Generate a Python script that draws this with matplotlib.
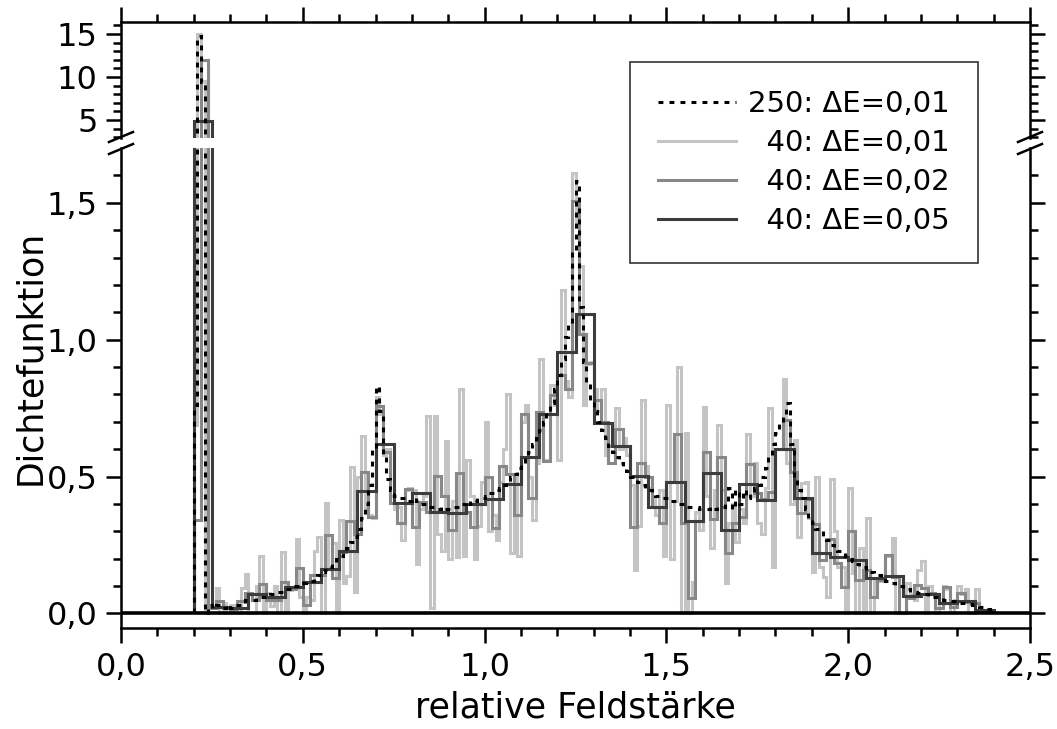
import numpy as np
import matplotlib
matplotlib.use("Agg")
import matplotlib.pyplot as plt
from matplotlib.lines import Line2D

plt.rcParams['font.family'] = ['DejaVu Sans']

# bin start, bin width and values (density) for each run
start = 0.20

# 40 runs, dE = 0.05
dens_40_005 = [4.9, 0.025, 0.02, 0.071, 0.061, 0.098, 0.115, 0.163, 0.23, 0.448,
               0.619, 0.405, 0.44, 0.372, 0.368, 0.40, 0.418, 0.472, 0.571, 0.729,
               0.955, 1.092, 0.697, 0.612, 0.502, 0.39, 0.48, 0.339, 0.512, 0.305,
               0.472, 0.415, 0.60, 0.423, 0.22, 0.207, 0.195, 0.128, 0.137, 0.064,
               0.070, 0.037, 0.046, 0.013]

# 40 runs, dE = 0.02
dens_40_002 = [0.34, 12.0, 0.02, 0.047, 0.02, 0.015, 0.047, 0.074, 0.05, 0.106,
               0.05, 0.05, 0.114, 0.09, 0.167, 0.03, 0.14, 0.14, 0.286, 0.128,
               0.226, 0.336, 0.29, 0.518, 0.354, 0.758, 0.588, 0.405, 0.33, 0.454,
               0.317, 0.407, 0.372, 0.503, 0.43, 0.305, 0.514, 0.37, 0.317, 0.40,
               0.5, 0.314, 0.54, 0.51, 0.36, 0.729, 0.42, 0.737, 0.558, 0.798,
               0.87, 0.819, 1.508, 1.021, 0.914, 0.78, 0.70, 0.549, 0.673, 0.612,
               0.317, 0.549, 0.5, 0.39, 0.33, 0.48, 0.656, 0.33, 0.055, 0.339,
               0.591, 0.344, 0.571, 0.222, 0.332, 0.354, 0.545, 0.439, 0.417, 0.445,
               0.60, 0.705, 0.518, 0.366, 0.417, 0.327, 0.195, 0.271, 0.183, 0.098,
               0.303, 0.122, 0.16, 0.061, 0.122, 0.214, 0.134, 0.0, 0.057, 0.104,
               0.093, 0.074, 0.02, 0.096, 0.025, 0.074, 0.043, 0.04, 0.013, 0.007]

# 40 runs, dE = 0.01
dens_40_001 = [0.69, 15.0, 9.5, 0.0, 0.02, 0.02, 0.093, 0.0, 0.04, 0.0,
               0.03, 0.0, 0.0, 0.094, 0.144, 0.0, 0.0, 0.10, 0.211, 0.0,
               0.074, 0.026, 0.10, 0.0, 0.224, 0.0, 0.087, 0.093, 0.272, 0.06,
               0.0, 0.06, 0.05, 0.228, 0.28, 0.0, 0.403, 0.17, 0.256, 0.0,
               0.34, 0.11, 0.136, 0.536, 0.08, 0.50, 0.648, 0.39, 0.36, 0.35,
               0.79, 0.73, 0.58, 0.60, 0.43, 0.38, 0.39, 0.27, 0.45, 0.46,
               0.45, 0.18, 0.38, 0.43, 0.72, 0.02, 0.72, 0.29, 0.23, 0.63,
               0.20, 0.41, 0.205, 0.82, 0.21, 0.56, 0.43, 0.20, 0.32, 0.48,
               0.70, 0.30, 0.36, 0.27, 0.48, 0.60, 0.80, 0.22, 0.51, 0.21,
               0.70, 0.76, 0.50, 0.34, 0.55, 0.93, 0.56, 0.56, 0.835, 0.76,
               0.56, 1.18, 0.85, 0.79, 1.61, 1.41, 1.27, 0.76, 0.91, 0.92,
               0.82, 0.74, 0.82, 0.58, 0.55, 0.55, 0.75, 0.60, 0.64, 0.58,
               0.47, 0.16, 0.32, 0.78, 0.54, 0.46, 0.42, 0.36, 0.45, 0.21,
               0.76, 0.20, 0.41, 0.90, 0.0, 0.66, 0.0, 0.115, 0.37, 0.305,
               0.755, 0.43, 0.24, 0.45, 0.69, 0.45, 0.11, 0.33, 0.40, 0.26,
               0.38, 0.33, 0.655, 0.43, 0.55, 0.33, 0.29, 0.46, 0.75, 0.17,
               0.60, 0.60, 0.858, 0.55, 0.40, 0.634, 0.28, 0.475, 0.48, 0.35,
               0.15, 0.50, 0.17, 0.135, 0.06, 0.49, 0.30, 0.17, 0.17, 0.0,
               0.46, 0.147, 0.0, 0.24, 0.0, 0.347, 0.0, 0.12, 0.12, 0.12,
               0.21, 0.21, 0.275, 0.0, 0.0, 0.0, 0.11, 0.07, 0.05, 0.16,
               0.19, 0.0, 0.10, 0.07, 0.0, 0.04, 0.1, 0.09, 0.0, 0.05,
               0.1, 0.07, 0.09, 0.0, 0.0, 0.09, 0.01, 0.01, 0.005, 0.005]

# 250 runs, dE = 0.01
dens_250_001 = [0.76, 14.8, 9.4, 0.0, 0.03, 0.02, 0.03, 0.03, 0.02, 0.03,
                0.02, 0.03, 0.03, 0.04, 0.05, 0.05, 0.05, 0.06, 0.06, 0.06,
                0.06, 0.07, 0.07, 0.08, 0.08, 0.09, 0.09, 0.10, 0.10, 0.11,
                0.11, 0.12, 0.12, 0.13, 0.14, 0.15, 0.16, 0.17, 0.18, 0.20,
                0.21, 0.22, 0.24, 0.26, 0.28, 0.31, 0.35, 0.40, 0.47, 0.60,
                0.83, 0.74, 0.58, 0.49, 0.45, 0.43, 0.42, 0.42, 0.42, 0.41,
                0.42, 0.41, 0.40, 0.40, 0.39, 0.39, 0.38, 0.38, 0.39, 0.38,
                0.38, 0.39, 0.39, 0.40, 0.40, 0.41, 0.40, 0.41, 0.42, 0.42,
                0.43, 0.44, 0.44, 0.45, 0.46, 0.47, 0.48, 0.50, 0.51, 0.53,
                0.55, 0.57, 0.59, 0.62, 0.64, 0.67, 0.70, 0.74, 0.77, 0.82,
                0.87, 0.93, 1.01, 1.06, 1.32, 1.58, 1.12, 0.92, 0.84, 0.78,
                0.74, 0.70, 0.67, 0.64, 0.61, 0.59, 0.57, 0.55, 0.53, 0.52,
                0.50, 0.49, 0.48, 0.47, 0.46, 0.45, 0.44, 0.43, 0.43, 0.42,
                0.42, 0.41, 0.41, 0.40, 0.40, 0.39, 0.39, 0.39, 0.39, 0.38,
                0.38, 0.38, 0.39, 0.38, 0.39, 0.39, 0.40, 0.46, 0.38, 0.45,
                0.40, 0.45, 0.42, 0.44, 0.46, 0.47, 0.50, 0.53, 0.58, 0.62,
                0.66, 0.70, 0.73, 0.77, 0.62, 0.50, 0.45, 0.42, 0.38, 0.35,
                0.33, 0.31, 0.30, 0.28, 0.27, 0.25, 0.24, 0.23, 0.22, 0.21,
                0.20, 0.19, 0.18, 0.17, 0.17, 0.16, 0.15, 0.14, 0.14, 0.13,
                0.12, 0.12, 0.11, 0.10, 0.10, 0.09, 0.09, 0.08, 0.08, 0.075,
                0.07, 0.07, 0.065, 0.06, 0.06, 0.055, 0.05, 0.05, 0.045, 0.045,
                0.04, 0.04, 0.035, 0.035, 0.03, 0.03, 0.025, 0.02, 0.015, 0.01]

labels = ["250: \u0394E=0,01", "\u200740: \u0394E=0,01",
          "\u200740: \u0394E=0,02", "\u200740: \u0394E=0,05"]


def edges(vals, width):
    return start + width * np.arange(len(vals) + 1)


# series: (values, bin width, colour, style)
series = [
    (dens_40_001, 0.01, "#c4c4c4", "-"),
    (dens_40_002, 0.02, "#888888", "-"),
    (dens_40_005, 0.05, "#3c3c3c", "-"),
    (dens_250_001, 0.01, "black", (0, (1.6, 2.0))),
]

W, H = 1057, 729
fig = plt.figure(figsize=(W / 100, H / 100), dpi=100)

left = 121 / W
width = (1030 - 121) / W
ax_top = fig.add_axes([left, 1 - 138 / H, width, (138 - 22) / H])
ax = fig.add_axes([left, 1 - 628 / H, width, (628 - 148) / H])

for a in (ax_top, ax):
    for vals, w, col, ls in series:
        a.stairs(vals, edges(vals, w), baseline=0, fill=False,
                 color=col, linestyle=ls, linewidth=2.2)
    a.set_xlim(0, 2.5)
    for s in a.spines.values():
        s.set_linewidth(1.8)

ax.axhline(0, color="black", linewidth=2.6, zorder=5)

ax.set_ylim(-0.053, 1.70)
ax_top.set_ylim(2.9, 16.4)

ax_top.spines["bottom"].set_visible(False)
ax.spines["top"].set_visible(False)

# ticks
ax.set_xticks(np.arange(0, 2.51, 0.5))
ax.set_xticks(np.arange(0, 2.51, 0.1), minor=True)
ax.set_xticklabels([f"{v:.1f}".replace(".", ",") for v in np.arange(0, 2.51, 0.5)])
ax.set_yticks([0, 0.5, 1.0, 1.5])
ax.set_yticks(np.arange(0, 1.65, 0.1), minor=True)
ax.set_yticklabels(["0,0", "0,5", "1,0", "1,5"])
ax.tick_params(which="both", direction="out", right=True, top=False,
               width=1.8, labelsize=23, pad=6)
ax.tick_params(which="major", length=11)
ax.tick_params(which="minor", length=6)

ax_top.set_xticks(np.arange(0, 2.51, 0.5))
ax_top.set_xticks(np.arange(0, 2.51, 0.1), minor=True)
ax_top.set_yticks([5, 10, 15])
ax_top.set_yticks(np.arange(3, 16.5, 1), minor=True)
ax_top.set_yticklabels(["5", "10", "15"])
ax_top.tick_params(which="both", direction="out", top=True, bottom=False,
                   right=True, labelbottom=False, width=1.8, labelsize=23, pad=6)
ax_top.tick_params(which="major", length=11)
ax_top.tick_params(which="minor", length=6)

ax.set_xlabel("relative Feldst\u00e4rke", fontsize=25, labelpad=6)
fig.text(30 / W, 1 - 357 / H, "Dichtefunktion", fontsize=25,
         rotation=90, ha="center", va="center")

# break marks
for xc in (121, 1030):
    for yc in (137, 149):
        fig.add_artist(Line2D([(xc - 12) / W, (xc + 12) / W],
                              [1 - (yc + 5) / H, 1 - (yc - 5) / H],
                              color="black", linewidth=1.8))

handles = [Line2D([], [], color=col, linestyle=ls, linewidth=2.2)
           for _, _, col, ls in [series[3], series[0], series[1], series[2]]]
leg = fig.legend(handles, labels, loc="upper left",
                 bbox_to_anchor=(630 / W, 1 - 62 / H), fontsize=21,
                 frameon=True, fancybox=False, edgecolor="black",
                 handlelength=2.7, handletextpad=0.4, borderpad=0.95,
                 labelspacing=0.38, borderaxespad=0)
leg.get_frame().set_linewidth(1.2)

fig.savefig("out.png", dpi=100)
